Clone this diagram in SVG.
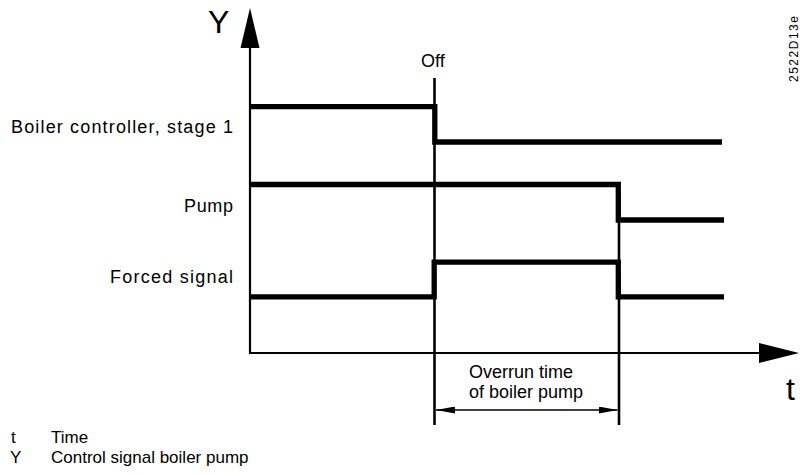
<svg xmlns="http://www.w3.org/2000/svg" width="800" height="475" viewBox="0 0 800 475">
<style>
text{font-family:"Liberation Sans",Arial,sans-serif;fill:#000}
.lbl{font-size:18px}
.leg{font-size:17px}
.big{font-size:32px}
.sig{fill:none;stroke:#000;stroke-width:5.3;stroke-linejoin:miter;stroke-linecap:butt}
.axis{fill:none;stroke:#000;stroke-width:2.2}
.mark{fill:none;stroke:#000;stroke-width:2.6}
.dim{fill:none;stroke:#000;stroke-width:1.6}
</style>
<defs>
<marker id="dimArrow" viewBox="0 0 19 7" refX="19" refY="3.5" markerWidth="19" markerHeight="7" markerUnits="userSpaceOnUse" orient="auto-start-reverse">
<path d="M0,0 L19,3.5 L0,7 Z" fill="#000"/>
</marker>
</defs>
<rect width="800" height="475" fill="#fff"/>

<g id="axes">
<line class="axis" x1="250" y1="46" x2="250" y2="354"/>
<polygon points="250,8 240.5,48 259.5,48" fill="#000"/>
<line class="axis" x1="249" y1="353" x2="762" y2="353"/>
<polygon points="799,353 759,343 759,363" fill="#000"/>
<text class="big" x="208" y="33">Y</text>
<text class="big" x="786" y="400">t</text>
</g>

<g id="markers">
<line class="mark" x1="434.5" y1="78" x2="434.5" y2="425"/>
<line class="mark" x1="619" y1="184" x2="619" y2="425"/>
<text class="lbl" x="421" y="66.5">Off</text>
</g>

<g id="signal-stage1">
<polyline class="sig" points="250,106.7 434.8,106.7 434.8,142 722,142"/>
<text class="lbl" x="11" y="133" textLength="222" lengthAdjust="spacing">Boiler controller, stage 1</text>
</g>

<g id="signal-pump">
<polyline class="sig" points="250,184.5 618.3,184.5 618.3,220 724,220"/>
<text class="lbl" x="184" y="212" textLength="49" lengthAdjust="spacing">Pump</text>
</g>

<g id="signal-forced">
<polyline class="sig" points="250,296.8 434.2,296.8 434.2,262.2 618.3,262.2 618.3,296.8 724,296.8"/>
<text class="lbl" x="110" y="283" textLength="123" lengthAdjust="spacing">Forced signal</text>
</g>

<g id="connectors">
<line class="dim" x1="436" y1="410" x2="617.5" y2="410" marker-start="url(#dimArrow)" marker-end="url(#dimArrow)"/>
</g>

<g id="overrun-label">
<text class="lbl" x="469" y="378">Overrun time</text>
<text class="lbl" x="469" y="398">of boiler pump</text>
</g>

<g id="legend">
<text class="leg" x="11" y="443">t</text>
<text class="leg" x="51" y="443">Time</text>
<text class="leg" x="10" y="463">Y</text>
<text class="leg" x="51" y="463">Control signal boiler pump</text>
</g>

<text x="798" y="82" font-size="12" transform="rotate(-90 798 82)" textLength="66" lengthAdjust="spacing">2522D13e</text>
</svg>
